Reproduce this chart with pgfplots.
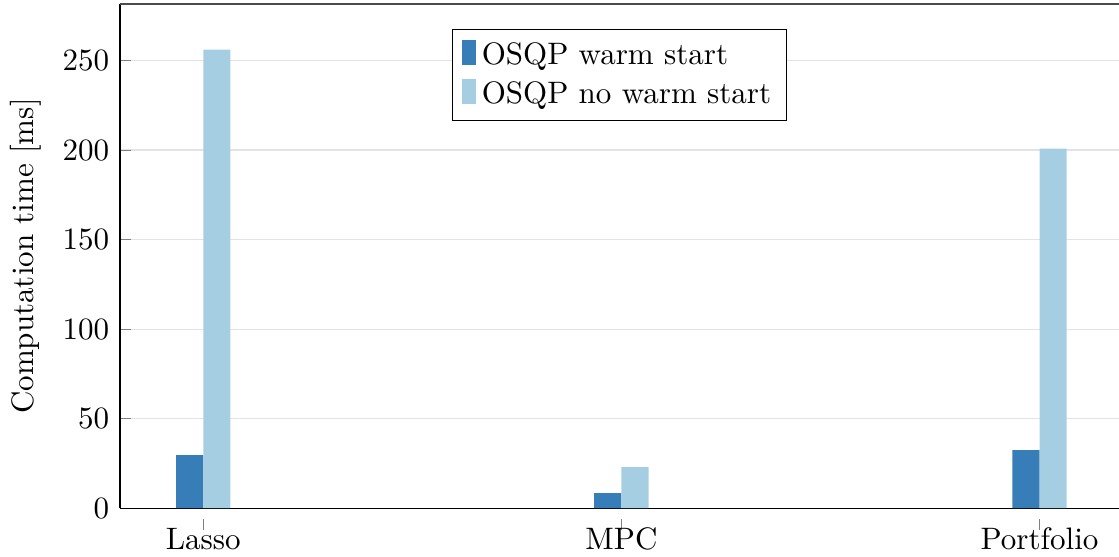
\documentclass[border=0pt]{standalone}
\usepackage{pgfplots}
\pgfplotsset{compat=1.18}
\definecolor{cdark}{HTML}{377EB8}
\definecolor{clight}{HTML}{A6CEE3}
\begin{document}
\begin{tikzpicture}
\begin{axis}[
  scale only axis, width=322pt, height=162.5pt,
  ymin=0, ymax=281.6, xmin=-0.199, xmax=2.19,
  xtick={0,1,2}, xticklabels={Lasso,MPC,Portfolio},
  ytick={0,50,100,150,200,250},
  ybar=0pt, bar width=0.065,
  ymajorgrids, grid style={gray!22},
  axis x line*=bottom, axis y line*=left, axis line style={-},
  xtick style={gray, yshift=-3.5pt}, ytick style={gray},
  xticklabel style={yshift=0.6pt},
  major tick length=3.5pt,
  ylabel={Computation time [ms]},
  legend style={at={(0.5,0.95)}, anchor=north, draw=black, row sep=0pt},
  legend cell align=left,
  legend image code/.code={\fill[#1] (0pt,-3pt) rectangle (4.5pt,5pt);},
]
\addplot[fill=cdark, draw=none] coordinates {(0,29.6) (1,8.4) (2,32.4)};
\addplot[fill=clight, draw=none] coordinates {(0,256.1) (1,22.9) (2,200.9)};
\legend{OSQP warm start, OSQP no warm start}
\end{axis}
\draw[black!70] (current axis.north west) -- (current axis.north east);
\pgfresetboundingbox
\path ([xshift=-38.7pt,yshift=-15.5pt]current axis.south west) rectangle ([yshift=1.3pt]current axis.north east);
\end{tikzpicture}
\end{document}
